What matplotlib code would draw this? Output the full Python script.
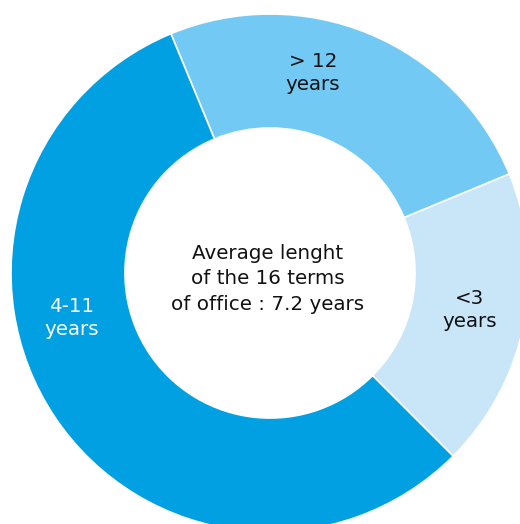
import matplotlib.pyplot as plt

# terms of office by length (16 terms in total)
labels = ["<3\nyears", "> 12\nyears", "4-11\nyears"]
terms = [3, 4, 9]
colors = ["#C8E6F8", "#72C9F3", "#00A0E2"]
text_colors = ["#111111", "#111111", "white"]
center_text = "Average lenght\nof the 16 terms\nof office : 7.2 years"

plt.rcParams['font.family'] = ['DejaVu Sans']

fig = plt.figure(figsize=(5.2, 5.24), dpi=100)
ax = fig.add_axes([0, 0, 1, 1])

wedges, _ = ax.pie(terms, colors=colors, startangle=-45, counterclock=True,
                   radius=1.0,
                   wedgeprops=dict(width=0.44, edgecolor="white", linewidth=1.2))

# label spots (data units, radius 1 = outer edge)
spots = [(0.772, -0.143), (0.166, 0.772), (-0.764, -0.174)]
for (x, y), lab, tc in zip(spots, labels, text_colors):
    ax.text(x, y, lab, ha="center", va="center", fontsize=14.3,
            color=tc, linespacing=1.32)

ax.text(-0.008, -0.023, center_text, ha="center", va="center",
        fontsize=14.3, color="#111111", linespacing=1.42)

# figure is cropped around the ring, centre at pixel (270, 273)
ax.set_xlim(-270 / 259, 250 / 259)
ax.set_ylim(-251 / 259, 273 / 259)
ax.set_aspect("auto")
ax.axis("off")

fig.savefig("out.png", dpi=100)
